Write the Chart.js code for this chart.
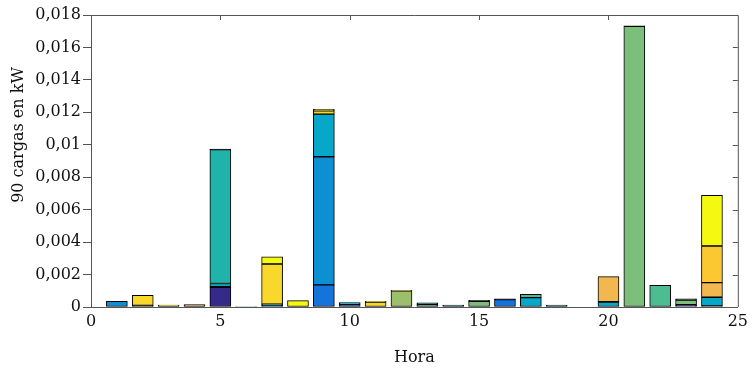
<!DOCTYPE html>
<html>
<head>
<meta charset="utf-8">
<script src="https://cdn.jsdelivr.net/npm/chart.js@4"></script>
<style>
  body { margin: 0; background: #fff; }
  #wrap { width: 753px; height: 372px; }
</style>
</head>
<body>
<div id="wrap"><canvas id="myChart" width="753" height="372"></canvas></div>
<script>
// hours 1..24
var hours = [1, 2, 3, 4, 5, 6, 7, 8, 9, 10, 11, 12, 13, 14, 15, 16, 17, 18, 19, 20, 21, 22, 23, 24];

// stacked series, bottom to top (kW)
var sNavy    = [0, 0, 0, 0, 0.00121, 0, 0, 0, 0, 0, 0, 0, 0, 0, 0, 0, 0, 0, 0, 0, 0, 0, 0.00008, 0];
var sDark1   = [0, 0.0001, 0, 0, 0.00004, 0, 0.00008, 0, 0, 0, 0, 0, 0, 0, 0, 0, 0, 0, 0, 0, 0, 0, 0, 0.00006];
var sBlue    = [0, 0, 0, 0, 0, 0, 0, 0, 0.00136, 0.00017, 0, 0, 0, 0, 0, 0.00045, 0, 0, 0, 0, 0, 0, 0.00006, 0];
var sMidBlue = [0.00035, 0, 0, 0, 0, 0, 0, 0, 0.0079, 0, 0, 0, 0, 0, 0, 0, 0, 0, 0, 0, 0, 0, 0, 0];
var sCyan    = [0, 0, 0, 0, 0.0002, 0, 0.0001, 0, 0.00263, 0.0001, 0, 0, 0, 0, 0, 0, 0.00058, 0, 0, 0.0003, 0, 0, 0, 0.00054];
var sTeal    = [0, 0, 0, 0, 0.00825, 0, 0, 0, 0, 0, 0, 0, 0.00015, 0, 0, 0, 0, 0, 0, 0, 0, 0, 0, 0];
var sDkTeal  = [0, 0, 0, 0, 0, 0.00003, 0, 0, 0, 0, 0, 0, 0.0001, 0.00012, 0, 0, 0, 0.00012, 0, 0, 0, 0, 0, 0];
var sSea     = [0, 0, 0, 0, 0, 0, 0, 0, 0, 0, 0, 0, 0, 0, 0, 0, 0.0002, 0, 0, 0, 0, 0.00134, 0, 0];
var sGreen   = [0, 0, 0, 0, 0, 0, 0, 0, 0, 0, 0, 0, 0, 0, 0.00035, 0, 0, 0, 0, 0, 0.0173, 0, 0.00028, 0];
var sOlive   = [0, 0, 0, 0, 0, 0, 0, 0, 0, 0, 0, 0.00099, 0, 0, 0, 0, 0, 0, 0, 0, 0, 0, 0, 0];
var sDark2   = [0, 0, 0, 0, 0.00003, 0, 0, 0, 0, 0, 0, 0, 0, 0, 0.00006, 0.00006, 0, 0, 0, 0.00003, 0.00004, 0, 0.00008, 0];
var sOrange  = [0, 0, 0, 0.00015, 0, 0, 0, 0, 0, 0, 0, 0.00004, 0, 0, 0, 0, 0, 0, 0, 0.00154, 0, 0, 0, 0.0009];
var sAmber   = [0, 0, 0, 0, 0, 0, 0, 0, 0, 0, 0, 0, 0, 0, 0, 0, 0, 0, 0, 0, 0, 0, 0, 0.00226];
var sYellow  = [0, 0.00062, 0, 0, 0, 0, 0.00247, 0, 0.0002, 0, 0.0003, 0, 0, 0, 0, 0, 0, 0, 0, 0, 0, 0, 0, 0];
var sBright  = [0, 0, 0.00012, 0, 0, 0, 0.00045, 0.00039, 0.0001, 0, 0.00005, 0, 0, 0, 0, 0, 0, 0, 0, 0, 0, 0, 0, 0.00312];

var yTicks = [0, 0.002, 0.004, 0.006, 0.008, 0.01, 0.012, 0.014, 0.016, 0.018];

var series = [
  [sNavy, "#352a87"],
  [sDark1, "#1c1c2c"],
  [sBlue, "#1573dc"],
  [sMidBlue, "#0d8fd4"],
  [sCyan, "#06a7c8"],
  [sTeal, "#1fb3aa"],
  [sDkTeal, "#1d7468"],
  [sSea, "#4cbd91"],
  [sGreen, "#7bbf7a"],
  [sOlive, "#9cbf6b"],
  [sDark2, "#1a1a1a"],
  [sOrange, "#f1b84f"],
  [sAmber, "#fcc832"],
  [sYellow, "#f8d82a"],
  [sBright, "#f5f910"],
];

var FONT = "DejaVu Serif";

var datasets = series.map(function (s) {
  return {
    data: s[0].map(function (v, i) { return { x: hours[i], y: v > 0 ? v : null }; }),
    backgroundColor: s[1],
    borderColor: "#000",
    borderWidth: 1,
    borderSkipped: false,
    barThickness: 21,
  };
});

// box around the plot, inside ticks on top and right, y title
var boxPlugin = {
  id: "box",
  afterDraw: function (chart) {
    var c = chart.ctx, a = chart.chartArea;
    var xs = chart.scales.x, ys = chart.scales.y;
    c.save();
    c.strokeStyle = "#555";
    c.lineWidth = 1;
    c.beginPath();
    c.moveTo(a.left, a.top + 0.5);
    c.lineTo(a.right + 0.5, a.top + 0.5);
    c.lineTo(a.right + 0.5, a.bottom);
    yTicks.forEach(function (t) {
      if (t === 0 || t === 0.018) return;
      var py = Math.round(ys.getPixelForValue(t)) + 0.5;
      c.moveTo(a.right, py);
      c.lineTo(a.right - 5, py);
    });
    [5, 10, 15, 20].forEach(function (t) {
      var px = Math.round(xs.getPixelForValue(t)) + 0.5;
      c.moveTo(px, a.top);
      c.lineTo(px, a.top + 5);
    });
    c.stroke();

    c.translate(19, 135);
    c.rotate(-Math.PI / 2);
    c.fillStyle = "#111";
    c.font = "16px '" + FONT + "'";
    c.textAlign = "center";
    c.textBaseline = "middle";
    c.fillText("90 cargas en kW", 0, 0);
    c.restore();
  },
};

var ctx = document.getElementById("myChart").getContext("2d");
var chart = new Chart(ctx, {
  type: "bar",
  data: { datasets: datasets },
  plugins: [boxPlugin],
  options: {
    responsive: false,
    animation: false,
    layout: { padding: { top: 15, right: 13, left: 0, bottom: 0 } },
    plugins: {
      legend: { display: false },
      tooltip: { enabled: false },
    },
    scales: {
      x: {
        type: "linear",
        stacked: true,
        min: 0,
        max: 25,
        offset: false,
        afterFit: function (s) { s.height = 65; },
        ticks: {
          stepSize: 5,
          padding: 5,
          color: "#111",
          font: { family: FONT, size: 16 },
        },
        grid: { display: false, drawTicks: false },
        border: { display: true, color: "#555", width: 1 },
        title: {
          display: true,
          text: "Hora",
          color: "#111",
          font: { family: FONT, size: 16 },
          padding: { top: 11, bottom: 5 },
        },
      },
      y: {
        stacked: true,
        min: 0,
        max: 0.018,
        afterFit: function (s) { s.width = 91; },
        afterBuildTicks: function (s) {
          s.ticks = yTicks.map(function (v) { return { value: v }; });
        },
        ticks: {
          padding: 2,
          color: "#111",
          font: { family: FONT, size: 16 },
          callback: function (v) {
            return String(+Number(v).toFixed(3)).replace(".", ",");
          },
        },
        grid: {
          drawOnChartArea: false,
          drawTicks: true,
          tickLength: 8,
          color: "#555",
        },
        border: { display: true, color: "#555", width: 1 },
      },
    },
  },
});
</script>
</body>
</html>
